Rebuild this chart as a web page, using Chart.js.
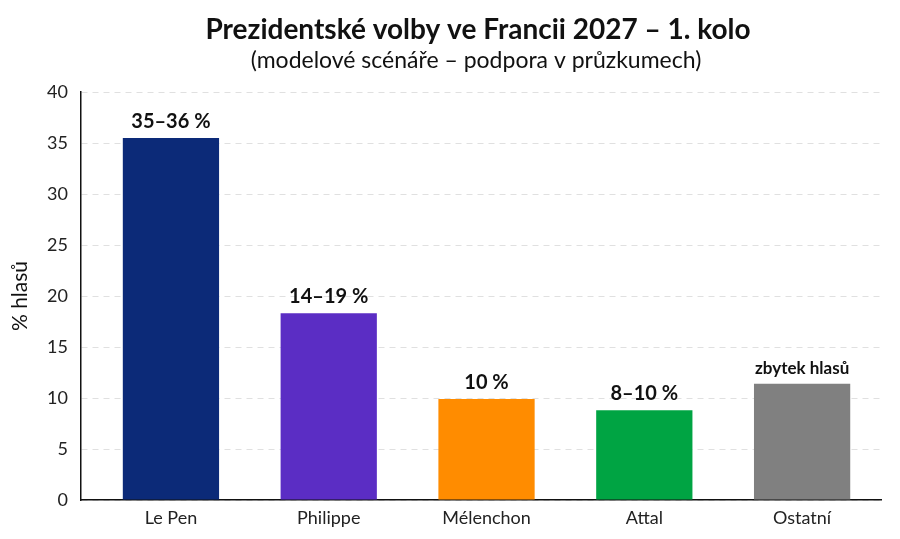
<!DOCTYPE html>
<html lang="cs">
<head>
<meta charset="utf-8">
<title>Prezidentské volby ve Francii 2027</title>
<script src="https://cdn.jsdelivr.net/npm/chart.js@4/dist/chart.umd.min.js"></script>
<style>
  html, body { margin: 0; padding: 0; background: #fff; }
  #wrap { width: 900px; height: 539px; }
</style>
</head>
<body>
<div id="wrap"><canvas id="volby" width="900" height="539"></canvas></div>
<script>
// data block
const kandidati = ["Le Pen", "Philippe", "Mélenchon", "Attal", "Ostatní"];
const podpora = [35.5, 18.3, 9.9, 8.8, 11.4];
const popisky = ["35–36 %", "14–19 %", "10 %", "8–10 %", "zbytek hlasů"];
const barvy = ["#0c2a78", "#5b2dc4", "#ff8c00", "#00a443", "#808080"];
const yTicks = [0, 5, 10, 15, 20, 25, 30, 35, 40];

const FONT = "Lato, 'Noto Sans', sans-serif";

// labels above the bars + titles
const popiskyPlugin = {
  id: 'popisky',
  afterDatasetsDraw(chart) {
    const ctx = chart.ctx;
    const meta = chart.getDatasetMeta(0);
    ctx.save();
    ctx.fillStyle = "#111";
    ctx.textAlign = "center";
    ctx.textBaseline = "alphabetic";
    meta.data.forEach((bar, i) => {
      const last = i === popisky.length - 1;
      ctx.font = (last ? "bold 17px " : "bold 20px ") + FONT;
      ctx.fillText(popisky[i], bar.x, bar.y - 10);
    });
    ctx.restore();
  },
  afterDraw(chart) {
    const ctx = chart.ctx;
    ctx.save();
    ctx.fillStyle = "#111";
    ctx.textAlign = "center";
    ctx.textBaseline = "middle";
    ctx.font = "bold 28px " + FONT;
    ctx.fillText("Prezidentské volby ve Francii 2027 – 1. kolo", 478, 30);
    ctx.font = "23px " + FONT;
    ctx.fillText("(modelové scénáře – podpora v průzkumech)", 476, 61);
    ctx.restore();
  }
};

const body = podpora.map((v, i) => ({ x: i, y: v }));

new Chart(document.getElementById('volby'), {
  type: 'bar',
  data: {
    datasets: [{
      data: body,
      backgroundColor: barvy,
      borderWidth: 0,
      barPercentage: 1,
      categoryPercentage: 0.61
    }]
  },
  options: {
    responsive: false,
    animation: false,
    layout: { padding: { top: 92, right: 19, left: 0, bottom: 0 } },
    plugins: {
      legend: { display: false },
      tooltip: { enabled: false }
    },
    scales: {
      x: {
        type: 'linear',
        offset: false,
        min: -0.57,
        max: 4.5,
        afterBuildTicks: (s) => { s.ticks = kandidati.map((_, i) => ({ value: i })); },
        afterFit: (s) => { s.height = 39; },
        grid: { display: false, drawTicks: false },
        border: { display: true, color: "#111", width: 1.5 },
        ticks: {
          padding: 7,
          color: "#222",
          font: { family: FONT, size: 18 },
          callback: (v) => kandidati[v]
        }
      },
      y: {
        min: 0,
        max: 40,
        afterBuildTicks: (s) => { s.ticks = yTicks.map(v => ({ value: v })); },
        afterFit: (s) => { s.width = 81; },
        grid: {
          color: "#e0e0e0",
          drawTicks: false,
          lineWidth: 1
        },
        border: { display: true, color: "#111", width: 1.5, dash: [6, 5] },
        ticks: {
          padding: 13,
          color: "#222",
          font: { family: FONT, size: 18 }
        },
        title: {
          display: true,
          text: "% hlasů",
          color: "#111",
          font: { family: FONT, size: 21 },
          padding: { top: 8, bottom: 0 }
        }
      }
    }
  },
  plugins: [popiskyPlugin]
});
</script>
</body>
</html>
